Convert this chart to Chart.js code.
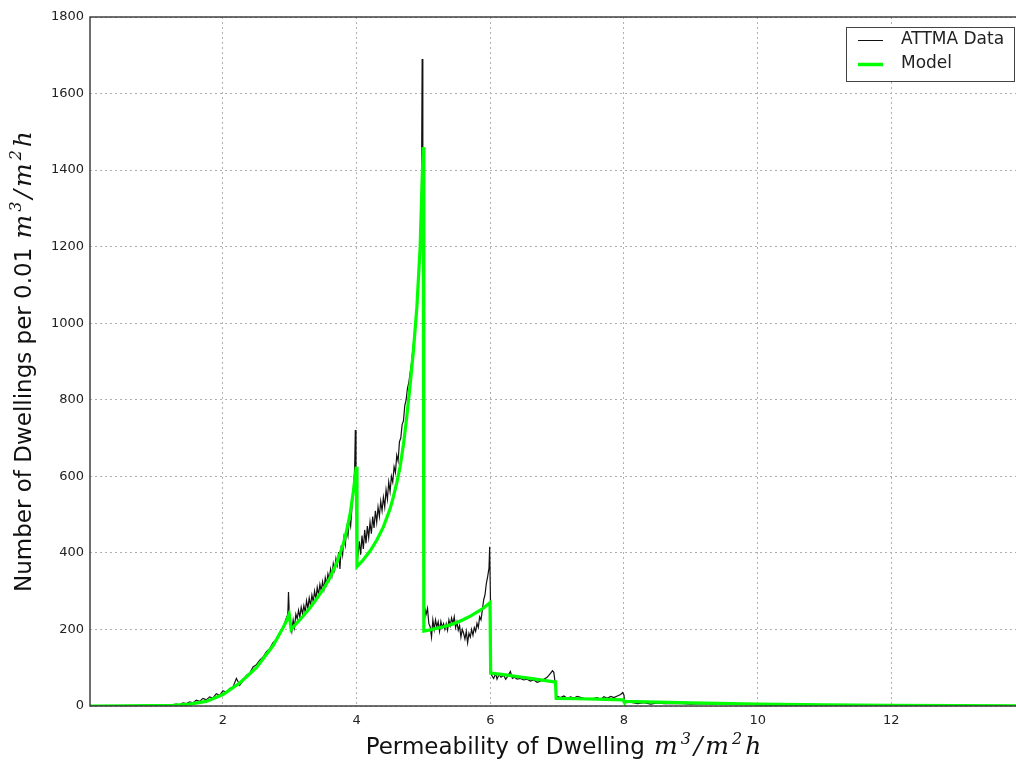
<!DOCTYPE html>
<html>
<head>
<meta charset="utf-8">
<script src="https://cdn.jsdelivr.net/npm/chart.js@4.4.1/dist/chart.umd.min.js"></script>
<style>
  html, body { margin: 0; padding: 0; background: #fff; overflow: hidden; }
  #wrap { position: relative; width: 1026px; height: 762px; }
</style>
</head>
<body>
<div id="wrap"><canvas id="c"></canvas></div>
<script>
// ---- Data ----
const attmaX = [0.01,0.1,0.2,0.3,0.4,0.5,0.6,0.7,0.8,0.9,1.0,1.1,1.2,1.3,1.35,1.4,1.45,1.5,1.55,1.6,1.65,1.7,1.75,1.8,1.85,1.9,1.95,
  2.0,2.05,2.1,2.15,2.2,2.23,2.25,2.3,2.35,2.4,2.45,2.5,2.55,2.6,2.65,2.7,2.75,2.8,2.85,2.9,2.94,2.97,2.98,2.99,
  3.01,3.03,3.05,3.07,3.09,3.11,3.13,3.15,3.17,3.19,3.21,3.23,3.25,3.27,3.29,3.31,3.33,3.35,3.37,3.39,3.41,3.43,3.45,3.47,3.49,
  3.51,3.53,3.55,3.57,3.59,3.61,3.63,3.65,3.67,3.69,3.71,3.73,3.75,3.77,3.79,3.81,3.83,3.85,3.87,3.89,3.91,3.93,3.95,3.97,3.98,3.99,4.0,
  4.01,4.02,4.04,4.06,4.08,4.10,4.12,4.14,4.16,4.18,4.20,4.22,4.24,4.26,4.28,4.30,4.32,4.34,4.36,4.38,4.40,4.42,4.44,4.46,4.48,4.50,
  4.52,4.54,4.56,4.58,4.60,4.62,4.64,4.66,4.68,4.70,4.72,4.74,4.76,4.78,4.80,4.82,4.84,4.86,4.88,4.90,4.92,4.94,4.96,4.97,4.98,4.99,5.00,
  5.01,5.02,5.04,5.06,5.08,5.10,5.12,5.14,5.16,5.18,5.20,5.22,5.24,5.26,5.28,5.30,5.32,5.34,5.36,5.38,5.40,5.42,5.44,5.46,5.48,5.50,
  5.52,5.54,5.56,5.58,5.60,5.62,5.64,5.66,5.68,5.70,5.72,5.74,5.76,5.78,5.80,5.82,5.84,5.86,5.88,5.90,5.92,5.94,5.96,5.98,5.99,6.00,
  6.01,6.02,6.05,6.08,6.10,6.13,6.16,6.20,6.23,6.26,6.30,6.33,6.36,6.40,6.45,6.50,6.55,6.60,6.65,6.70,6.75,6.80,6.85,6.90,6.93,6.95,6.97,6.98,
  7.0,7.05,7.1,7.15,7.2,7.25,7.3,7.4,7.5,7.6,7.65,7.7,7.75,7.8,7.85,7.9,7.95,7.98,8.0,
  8.01,8.1,8.2,8.3,8.4,8.5,8.6,8.8,9.0,9.2,9.4,9.6,9.8,9.99,10.0,10.5,11.0,11.5,12.0,13.0,14.0];
const attmaY = [0,0,1,0,1,0,1,1,2,1,2,3,2,5,3,8,6,11,8,15,12,20,16,24,21,32,28,
  40,36,46,50,72,62,54,66,80,86,102,108,120,128,142,150,166,172,192,205,226,240,298,252,
  214,195,225,205,240,228,250,232,258,240,262,245,275,255,282,262,290,272,300,280,310,290,318,300,325,
  305,335,318,345,330,358,340,372,355,385,368,402,358,420,395,440,420,465,445,490,470,520,560,620,721,590,520,
  380,395,430,395,445,410,460,425,470,440,480,450,495,465,510,480,520,495,535,510,545,520,565,540,585,560,
  600,585,625,610,655,640,690,700,735,745,785,800,830,845,870,895,930,965,1005,1045,1095,1170,1270,1350,1690,1420,1300,
  230,255,240,255,215,207,180,225,200,225,207,220,195,221,205,215,200,215,198,225,210,230,215,233,205,220,
  198,210,180,200,190,175,195,165,190,180,200,185,205,195,216,205,233,225,250,277,290,320,338,360,416,300,
  90,80,72,85,70,82,75,80,70,78,90,72,75,70,72,68,70,65,68,62,65,70,75,85,92,88,60,28,
  25,22,26,20,24,21,25,20,18,22,17,24,20,25,22,26,30,35,28,
  8,10,6,9,5,8,6,7,5,6,4,5,4,6,3,2,2,1,1,1,0];

const modelX = [0.01,0.5,1.0,1.25,1.5,1.75,2.0,2.25,2.5,2.75,2.9,2.95,2.99,3.02,3.1,3.2,3.3,3.4,3.5,3.6,3.7,3.8,3.85,3.9,3.95,3.995,
  4.005,4.1,4.2,4.3,4.4,4.5,4.55,4.6,4.65,4.7,4.75,4.8,4.85,4.9,4.95,4.995,
  5.005,5.1,5.2,5.3,5.4,5.5,5.6,5.7,5.8,5.9,5.995,
  6.005,6.2,6.4,6.6,6.8,6.95,6.975,6.985,7.3,7.6,7.99,8.0,9.0,10.0,11.0,12.0,13.0,14.0];
const modelY = [0,0.3,1,2,5,12,30,60,100,158,205,222,240,200,216,235,256,280,305,335,373,423,458,500,560,625,
  364,382,405,433,468,515,547,583,625,683,756,840,930,1040,1200,1460,
  196,199,203,207,212,218,226,235,245,256,270,
  86,82,77,72,67,63,63,20,19,18,16,12,8,5,3,2,1,0.5];

const xTicks = [2, 4, 6, 8, 10, 12];
const yTicks = [0, 200, 400, 600, 800, 1000, 1200, 1400, 1600, 1800];
const seriesNames = ['ATTMA Data', 'Model'];
const seriesColors = ['#111111', '#00ff00'];
const xTitle = ['Permeability of Dwelling ', 'm', '3', '/', 'm', '2', 'h'];
const yTitle = ['Number of Dwellings per 0.01 ', 'm', '3', '/', 'm', '2', 'h'];

// ---- Helpers / plugins ----
const SANS = '23px "DejaVu Sans"';
const MATH = 'italic 25px "DejaVu Serif"';
const SUP = 'italic 16px "DejaVu Serif"';
function titleParts(words) {
  return words.map((t, i) => {
    if (i === 0) return {t, font: SANS, dy: 0, gap: 2};
    if (t === '2' || t === '3') return {t, font: SUP, dy: -10, gap: 3};
    return {t, font: MATH, dy: 0, gap: 3};
  });
}
function drawTitle(ctx, words, cx, cy, rotate) {
  const parts = titleParts(words);
  let total = 0;
  parts.forEach(p => { ctx.font = p.font; p.w = ctx.measureText(p.t).width; total += p.w + p.gap; });
  ctx.save();
  ctx.translate(cx, cy);
  if (rotate) ctx.rotate(-Math.PI / 2);
  ctx.fillStyle = '#111';
  ctx.textBaseline = 'alphabetic';
  ctx.textAlign = 'left';
  let x = -total / 2;
  parts.forEach(p => { ctx.font = p.font; ctx.fillText(p.t, x, p.dy); x += p.w + p.gap; });
  ctx.restore();
}
const titlesPlugin = {
  id: 'mathTitles',
  afterDraw(chart) {
    const ctx = chart.ctx;
    drawTitle(ctx, xTitle, 565, 754, false);
    drawTitle(ctx, yTitle, 31, 360, true);
  }
};
const framePlugin = {
  id: 'frame',
  afterDatasetsDraw(chart) {
    const {ctx, chartArea: a} = chart;
    ctx.save();
    ctx.strokeStyle = '#333';
    ctx.lineWidth = 1.4;
    ctx.strokeRect(a.left, a.top, a.right - a.left, a.bottom - a.top);
    ctx.restore();
  }
};
const legendBoxPlugin = {
  id: 'legendBox',
  afterDraw(chart) {
    const ctx = chart.ctx;
    const bx = 846, by = 27, bw = 168, bh = 54;
    ctx.save();
    ctx.fillStyle = '#fff';
    ctx.fillRect(bx, by, bw, bh);
    ctx.strokeStyle = '#444';
    ctx.lineWidth = 1;
    ctx.strokeRect(bx + 0.5, by + 0.5, bw, bh);
    const rows = [40, 64];
    const widths = [1, 3.5];
    chart.data.datasets.forEach((ds, i) => {
      ctx.strokeStyle = ds.borderColor;
      ctx.lineWidth = widths[i];
      ctx.beginPath();
      ctx.moveTo(858, rows[i] + 0.5);
      ctx.lineTo(883, rows[i] + 0.5);
      ctx.stroke();
      ctx.fillStyle = '#222';
      ctx.font = '17px "DejaVu Sans"';
      ctx.textBaseline = 'middle';
      ctx.textAlign = 'left';
      ctx.fillText(ds.label, 901, rows[i]);
    });
    ctx.restore();
  }
};

const toPoints = (xs, ys) => xs.map((x, i) => ({x: x, y: ys[i]}));

new Chart(document.getElementById('c'), {
  type: 'line',
  data: {
    datasets: [
      {
        label: seriesNames[0],
        data: toPoints(attmaX, attmaY),
        borderColor: seriesColors[0],
        borderWidth: 1.2,
        pointRadius: 0,
        tension: 0,
        order: 1
      },
      {
        label: seriesNames[1],
        data: toPoints(modelX, modelY),
        borderColor: seriesColors[1],
        borderWidth: 3.2,
        pointRadius: 0,
        tension: 0,
        order: 0
      }
    ]
  },
  options: {
    responsive: true,
    maintainAspectRatio: false,
    animation: false,
    parsing: false,
    layout: { padding: { top: 17, right: 1, left: 0, bottom: 0 } },
    plugins: {
      legend: { display: false },
      tooltip: { enabled: false }
    },
    scales: {
      x: {
        type: 'linear',
        min: 0.01,
        max: 14,
        afterBuildTicks(scale) { scale.ticks = xTicks.map(v => ({value: v})); },
        afterFit(scale) { scale.height = 56; },
        ticks: {
          color: '#222',
          font: { family: 'DejaVu Sans', size: 13 },
          padding: 7,
          maxRotation: 0,
          autoSkip: false,
          callback: v => String(v)
        },
        grid: { color: '#b0b0b0', lineWidth: 1, drawTicks: false },
        border: { display: false, dash: [2, 3] },
        title: { display: false }
      },
      y: {
        type: 'linear',
        min: 0,
        max: 1800,
        afterBuildTicks(scale) { scale.ticks = yTicks.map(v => ({value: v})); },
        afterFit(scale) { scale.width = 90; },
        ticks: {
          color: '#222',
          font: { family: 'DejaVu Sans', size: 13 },
          padding: 6,
          autoSkip: false,
          callback: v => String(v)
        },
        grid: { color: '#b0b0b0', lineWidth: 1, drawTicks: false },
        border: { display: false, dash: [2, 3] },
        title: { display: false }
      }
    }
  },
  plugins: [framePlugin, legendBoxPlugin, titlesPlugin]
});
</script>
</body>
</html>
